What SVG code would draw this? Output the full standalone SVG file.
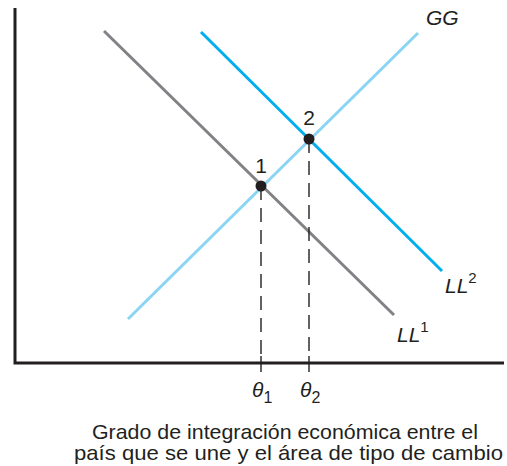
<svg xmlns="http://www.w3.org/2000/svg" width="507" height="466" viewBox="0 0 507 466">
<style>
.ax{stroke:#231f20;stroke-width:3;fill:none}
.dash{stroke:#231f20;stroke-width:1.4;stroke-dasharray:14 8;fill:none}
.tick{stroke:#231f20;stroke-width:1.4}
.t{font-family:"Liberation Sans",Arial,sans-serif;fill:#231f20}
.it{font-style:italic}
</style>
<rect width="507" height="466" fill="#fff"/>
<g id="axes">
<path class="ax" d="M15,8 V363 H504"/>
<line class="tick" x1="261" y1="356" x2="261" y2="372"/>
<line class="tick" x1="309" y1="356" x2="309" y2="372"/>
</g>
<g id="connectors">
<line id="LL1-line" x1="104" y1="31" x2="394" y2="315" stroke="#808285" stroke-width="3"/>
<line id="GG-line" x1="128" y1="319" x2="418" y2="33" stroke="#8ad4f4" stroke-width="3"/>
<line id="LL2-line" x1="201" y1="32" x2="442" y2="271" stroke="#00aeef" stroke-width="3"/>
<line class="dash" x1="261" y1="186" x2="261" y2="356"/>
<line class="dash" x1="309" y1="139" x2="309" y2="356"/>
</g>
<g id="point1">
<circle cx="261" cy="186" r="5.5" fill="#231f20"/>
<text class="t" x="261" y="173" font-size="21" text-anchor="middle">1</text>
</g>
<g id="point2">
<circle cx="309" cy="139" r="5.5" fill="#231f20"/>
<text class="t" x="309" y="125" font-size="21" text-anchor="middle">2</text>
</g>
<g id="label-GG"><text class="t it" x="426" y="25" font-size="21">GG</text></g>
<g id="label-LL2"><text class="t it" x="445" y="293" font-size="21">LL<tspan font-size="15" dy="-10" font-style="normal">2</tspan></text></g>
<g id="label-LL1"><text class="t it" x="397" y="342" font-size="21">LL<tspan font-size="15" dy="-10" font-style="normal">1</tspan></text></g>
<g id="theta1"><text class="t" x="252" y="397" font-size="21" font-family="'Liberation Serif',serif" font-style="italic">θ<tspan font-family="'Liberation Sans',sans-serif" font-style="normal" font-size="16" dy="6">1</tspan></text></g>
<g id="theta2"><text class="t" x="300" y="397" font-size="21" font-family="'Liberation Serif',serif" font-style="italic">θ<tspan font-family="'Liberation Sans',sans-serif" font-style="normal" font-size="16" dy="6">2</tspan></text></g>
<g id="xlabel">
<text class="t" x="92" y="439" font-size="21" textLength="386" lengthAdjust="spacingAndGlyphs">Grado de integración económica entre el</text>
<text class="t" x="74" y="460" font-size="21" textLength="429" lengthAdjust="spacingAndGlyphs">país que se une y el área de tipo de cambio</text>
</g>
</svg>
